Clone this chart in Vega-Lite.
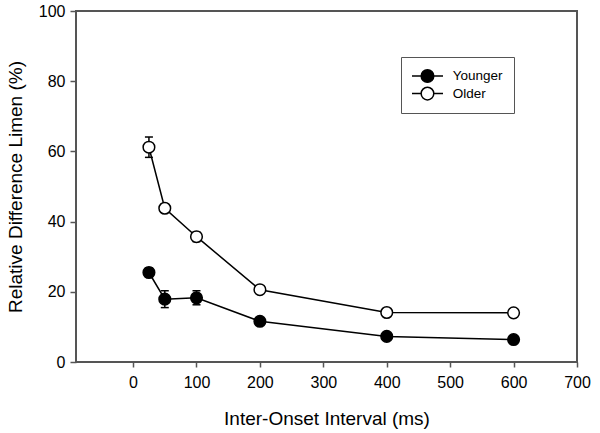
{
  "$schema": "https://vega.github.io/schema/vega-lite/v6.json",
  "width": 501,
  "height": 351,
  "autosize": {"type": "none"},
  "padding": {"left": 76, "top": 11, "right": 23, "bottom": 71},
  "background": "white",
  "config": {
    "font": "Liberation Sans",
    "view": {"stroke": "#555555", "strokeWidth": 2},
    "axis": {
      "grid": false,
      "domain": false,
      "labelFlush": false,
      "labelOverlap": false,
      "tickColor": "#555555",
      "tickWidth": 1.5,
      "labelColor": "black",
      "titleColor": "black",
      "labelFont": "Liberation Sans",
      "titleFont": "Liberation Sans",
      "titleFontWeight": "normal",
      "labelFontSize": 16,
      "titleFontSize": 19
    }
  },
  "data": {
    "values": [
      {"group": "Older", "ioi": 25, "val": 61.2, "lo": 58.3, "hi": 64.1},
      {"group": "Older", "ioi": 50, "val": 43.8, "lo": 42.6, "hi": 45.0},
      {"group": "Older", "ioi": 100, "val": 35.7, "lo": 34.3, "hi": 37.0},
      {"group": "Older", "ioi": 200, "val": 20.6, "lo": 19.8, "hi": 21.4},
      {"group": "Older", "ioi": 400, "val": 14.1, "lo": 13.6, "hi": 14.6},
      {"group": "Older", "ioi": 600, "val": 14.0, "lo": 13.5, "hi": 14.5},
      {"group": "Younger", "ioi": 25, "val": 25.5, "lo": 24.2, "hi": 26.8},
      {"group": "Younger", "ioi": 50, "val": 17.9, "lo": 15.5, "hi": 20.3},
      {"group": "Younger", "ioi": 100, "val": 18.3, "lo": 16.3, "hi": 20.3},
      {"group": "Younger", "ioi": 200, "val": 11.6, "lo": 10.9, "hi": 12.3},
      {"group": "Younger", "ioi": 400, "val": 7.3, "lo": 6.8, "hi": 7.8},
      {"group": "Younger", "ioi": 600, "val": 6.4, "lo": 6.0, "hi": 6.8}
    ]
  },
  "encoding": {
    "x": {
      "field": "ioi",
      "type": "quantitative",
      "scale": {"domain": [-90, 700], "nice": false, "zero": false},
      "axis": {
        "title": "Inter-Onset Interval (ms)",
        "values": [0, 100, 200, 300, 400, 500, 600, 700],
        "tickSize": 5,
        "labelPadding": 7,
        "titlePadding": 19
      }
    }
  },
  "layer": [
    {
      "mark": {"type": "line", "color": "black", "strokeWidth": 1.5},
      "encoding": {
        "y": {
          "field": "val",
          "type": "quantitative",
          "scale": {"domain": [0, 100], "nice": false},
          "axis": {
            "title": "Relative Difference Limen (%)",
            "values": [0, 20, 40, 60, 80, 100],
            "tickSize": 6,
            "labelPadding": 5,
            "titlePadding": 13
          }
        },
        "detail": {"field": "group"}
      }
    },
    {
      "mark": {"type": "rule", "color": "black", "strokeWidth": 1.5},
      "encoding": {
        "y": {"field": "lo", "type": "quantitative"},
        "y2": {"field": "hi"}
      }
    },
    {
      "mark": {"type": "tick", "color": "black", "orient": "horizontal", "size": 8, "thickness": 1.5, "opacity": 1},
      "encoding": {"y": {"field": "lo", "type": "quantitative"}}
    },
    {
      "mark": {"type": "tick", "color": "black", "orient": "horizontal", "size": 8, "thickness": 1.5, "opacity": 1},
      "encoding": {"y": {"field": "hi", "type": "quantitative"}}
    },
    {
      "mark": {"type": "point", "shape": "circle", "filled": true, "size": 135, "stroke": "black", "strokeWidth": 1.5, "opacity": 1},
      "encoding": {
        "y": {"field": "val", "type": "quantitative"},
        "fill": {
          "field": "group",
          "type": "nominal",
          "scale": {"domain": ["Younger", "Older"], "range": ["black", "white"]},
          "legend": {
            "title": null,
            "orient": "none",
            "legendX": 325,
            "legendY": 46,
            "padding": 11,
            "strokeColor": "#555555",
            "fillColor": "white",
            "symbolType": "M-1.2,0L0.26,0M2.26,0L3.72,0M0.26,0A1,1 0 1,0 2.26,0A1,1 0 1,0 0.26,0Z",
            "symbolSize": 160,
            "symbolStrokeColor": "black",
            "symbolStrokeWidth": 1.5,
            "clipHeight": 16,
            "labelFont": "Liberation Sans",
            "labelFontSize": 13.5,
            "labelColor": "black",
            "labelOffset": 25.7,
            "rowPadding": 1.6,
            "encode": {"legend": {"update": {"strokeWidth": {"value": 1.5}}}}
          }
        }
      }
    }
  ]
}
